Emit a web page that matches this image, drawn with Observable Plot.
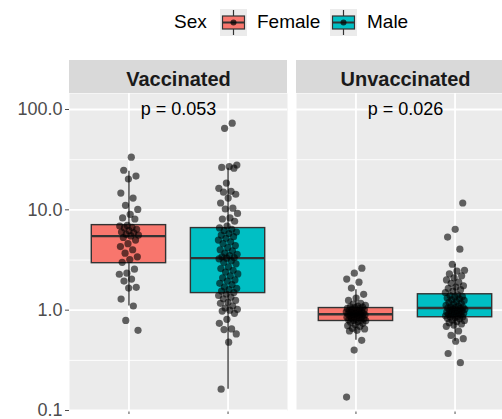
<!DOCTYPE html>
<html><head><meta charset="utf-8">
<script src="https://cdn.jsdelivr.net/npm/d3@7"></script>
<script src="https://cdn.jsdelivr.net/npm/@observablehq/plot@0.6"></script>
<style>
html,body{margin:0;padding:0;background:#fff;overflow:hidden;width:502px;height:419px;}
#legend{position:relative;height:45px;font-family:"Liberation Sans",Arial,sans-serif;font-size:19px;color:#000;}
#legend span{position:absolute;top:11px;line-height:22px;white-space:nowrap;}
#legend svg{position:absolute;top:9px;}
#chart{width:514px;}
#chart svg{display:block;max-width:none !important;width:514px !important;height:385px !important;}
</style></head><body>
<div id="legend"></div><div id="chart"></div>
<script>
const statusNames = ["Vaccinated", "Unvaccinated"];
const sexNames = ["Female", "Male"];
const sexColors = ["#F8766D", "#00BFC4"];
const legendTitle = "Sex";
const pLabels = ["p = 0.053", "p = 0.026"];
const yTicks = [0.1, 1, 10, 100];
const yMinor = [0.316, 3.16, 31.6];

const vaccFemale = [33.5, 24.8, 21.7, 20.3, 14.7, 13.1, 11.1, 10.1, 9.0, 8.3, 8.1,
  7.0, 6.9, 6.7, 6.6, 6.4, 6.2, 6.0, 5.9, 5.7, 5.6, 5.5, 5.3, 5.0, 4.6, 4.3, 4.0, 3.7, 3.4, 3.2, 3.0,
  2.56, 2.34, 2.28, 2.04, 1.95, 1.69, 1.66, 1.29, 1.10, 0.79, 0.63];
const vaccMale = [73, 65, 28, 27, 26.5, 26, 18.5, 16.4, 15.3, 15.0, 14.3, 13.1, 11.7, 10.4, 10.2, 9.2, 8.3, 8.1, 7.7, 6.9, 6.6,
  6.4, 6.2, 6.0, 5.8, 5.6, 5.4, 5.2, 5.0, 4.8, 4.6, 4.4, 4.2, 4.0, 3.9, 3.7, 3.6, 3.5, 3.4, 3.35, 3.3,
  3.25, 3.1, 3.0, 2.9, 2.7, 2.6, 2.5, 2.4, 2.3, 2.2, 2.1, 2.0, 1.95, 1.85, 1.8, 1.7, 1.65, 1.6, 1.55, 1.5,
  1.45, 1.4, 1.35, 1.3, 1.25, 1.2, 1.17, 1.1, 1.05, 1.02, 1.0, 0.98, 0.93, 0.81, 0.74, 0.65, 0.64, 0.58, 0.48, 0.163];
const unvaccFemale = [2.62, 2.34, 2.04, 1.90, 1.66, 1.44, 1.32, 1.25, 1.17, 1.15, 1.12, 1.10, 1.08, 1.07, 1.06,
  1.04, 1.03, 1.02, 1.01, 1.0, 0.99, 0.98, 0.97, 0.96, 0.95, 0.94, 0.93, 0.92, 0.915, 0.91, 0.905, 0.90, 0.89,
  0.88, 0.87, 0.86, 0.85, 0.84, 0.83, 0.82, 0.81, 0.80, 0.795, 0.79, 0.785,
  0.77, 0.76, 0.74, 0.72, 0.70, 0.69, 0.66, 0.65, 0.63, 0.62, 0.50, 0.40, 0.136];
const unvaccMale = [11.7, 6.4, 5.35, 4.05, 2.87, 2.5, 2.45, 2.3, 2.2, 2.1, 2.0, 1.9, 1.85, 1.75, 1.7, 1.65, 1.6, 1.55, 1.5,
  1.42, 1.4, 1.37, 1.35, 1.32, 1.3, 1.27, 1.25, 1.22, 1.2, 1.17, 1.15, 1.12, 1.1, 1.08, 1.07, 1.06, 1.05, 1.04,
  1.03, 1.02, 1.0, 0.99, 0.98, 0.97, 0.96, 0.95, 0.94, 0.93, 0.92, 0.91, 0.9, 0.89, 0.88, 0.87, 0.86, 0.855,
  0.84, 0.83, 0.82, 0.8, 0.79, 0.77, 0.75, 0.73, 0.71, 0.69, 0.62, 0.56, 0.52, 0.49, 0.37, 0.30];

// box statistics (order: Vacc F, Vacc M, Unvacc F, Unvacc M)
const boxQ1 = [2.94, 1.48, 0.78, 0.85];
const boxMedian = [5.47, 3.30, 0.91, 1.05];
const boxQ3 = [7.04, 6.58, 1.05, 1.44];
const whiskerLo = [1.1, 0.163, 0.50, 0.49];
const whiskerHi = [24.3, 26.0, 1.6, 2.87];

const groups = [
  {status: statusNames[0], sex: sexNames[0], values: vaccFemale},
  {status: statusNames[0], sex: sexNames[1], values: vaccMale},
  {status: statusNames[1], sex: sexNames[0], values: unvaccFemale},
  {status: statusNames[1], sex: sexNames[1], values: unvaccMale}
];

const jit = i => (((i + 1) * 0.6180339887) % 1 - 0.5) * 0.2;
const points = [];
groups.forEach((g, gi) => g.values.forEach((v, i) => points.push({
  status: g.status, pos: sexNames.indexOf(g.sex) + 1 + jit(i + gi * 5), value: v
})));
const boxes = groups.map((g, i) => ({
  status: g.status, sex: g.sex, pos: sexNames.indexOf(g.sex) + 1,
  q1: boxQ1[i], med: boxMedian[i], q3: boxQ3[i], lo: whiskerLo[i], hi: whiskerHi[i]
}));
const pData = statusNames.map((s, i) => ({status: s, label: pLabels[i]}));
const half = 0.375;

const plot = Plot.plot({
  width: 514, height: 385,
  marginTop: 48, marginBottom: 20, marginLeft: 69, marginRight: 0,
  style: {fontFamily: "'Liberation Sans', Arial, sans-serif", fontSize: "18px", color: "#4D4D4D", background: "transparent", maxWidth: "none"},
  fx: {domain: statusNames, axis: null, paddingInner: 9 / 227, paddingOuter: 0, round: false, label: null},
  x: {domain: [0.4, 2.6], ticks: [1, 2], tickFormat: () => "", tickSize: 4, label: null},
  y: {type: "log", domain: [0.1, 144.4], ticks: yTicks, tickFormat: d3.format(".1f"), tickSize: 4, tickPadding: 3, label: null},
  color: {domain: sexNames, range: sexColors},
  marks: [
    Plot.frame({fill: "#EBEBEB", stroke: "none"}),
    Plot.ruleY(yMinor, {stroke: "white", strokeWidth: 0.9}),
    Plot.ruleY(yTicks, {stroke: "white", strokeWidth: 1.8}),
    Plot.ruleX([1, 2], {stroke: "white", strokeWidth: 1.8}),
    Plot.ruleX(boxes, {fx: "status", x: "pos", y1: "q3", y2: "hi", stroke: "#333", strokeWidth: 1.3}),
    Plot.ruleX(boxes, {fx: "status", x: "pos", y1: "lo", y2: "q1", stroke: "#333", strokeWidth: 1.3}),
    Plot.rect(boxes, {fx: "status", x1: d => d.pos - half, x2: d => d.pos + half, y1: "q1", y2: "q3", fill: "sex", stroke: "#333", strokeWidth: 1.4}),
    Plot.ruleY(boxes, {fx: "status", x1: d => d.pos - half, x2: d => d.pos + half, y: "med", stroke: "#333", strokeWidth: 2.4}),
    Plot.dot(points, {fx: "status", x: "pos", y: "value", r: 3.6, fill: "black", fillOpacity: 0.6}),
    Plot.text(pData, {fx: "status", x: () => 1.5, y: () => 100, text: "label", fontSize: 18, fill: "black"}),
    Plot.text(statusNames, {fx: d => d, text: d => d, frameAnchor: "top", dy: -8, lineAnchor: "bottom", fontSize: 20, fontWeight: "bold", fill: "#1A1A1A"})
  ]
});

// facet strips (ggplot-style)
const fxs = plot.scale("fx");
const strips = d3.select(plot).insert("g", ":first-child");
statusNames.forEach(s => {
  strips.append("rect").attr("x", fxs.apply(s)).attr("y", 15)
    .attr("width", fxs.bandwidth).attr("height", 33).attr("fill", "#D9D9D9");
});
document.getElementById("chart").appendChild(plot);

// legend
const lg = d3.select("#legend");
lg.append("span").style("left", "174px").text(legendTitle);
const keyLeft = [220, 330], labLeft = [257, 367];
sexNames.forEach((s, i) => {
  const k = lg.append("svg").attr("width", 27).attr("height", 27).style("left", keyLeft[i] + "px");
  k.append("rect").attr("width", 27).attr("height", 27).attr("fill", "#EBEBEB");
  k.append("line").attr("x1", 13.5).attr("x2", 13.5).attr("y1", 1).attr("y2", 26).attr("stroke", "#333").attr("stroke-width", 1.2);
  k.append("rect").attr("x", 2.5).attr("y", 7).attr("width", 22).attr("height", 13).attr("fill", sexColors[i]).attr("stroke", "#333").attr("stroke-width", 1.2);
  k.append("line").attr("x1", 2.5).attr("x2", 24.5).attr("y1", 13.5).attr("y2", 13.5).attr("stroke", "#333").attr("stroke-width", 2);
  k.append("circle").attr("cx", 13.5).attr("cy", 13.5).attr("r", 3).attr("fill", "black").attr("fill-opacity", 0.7);
  lg.append("span").style("left", labLeft[i] + "px").text(s);
});
</script></body></html>
